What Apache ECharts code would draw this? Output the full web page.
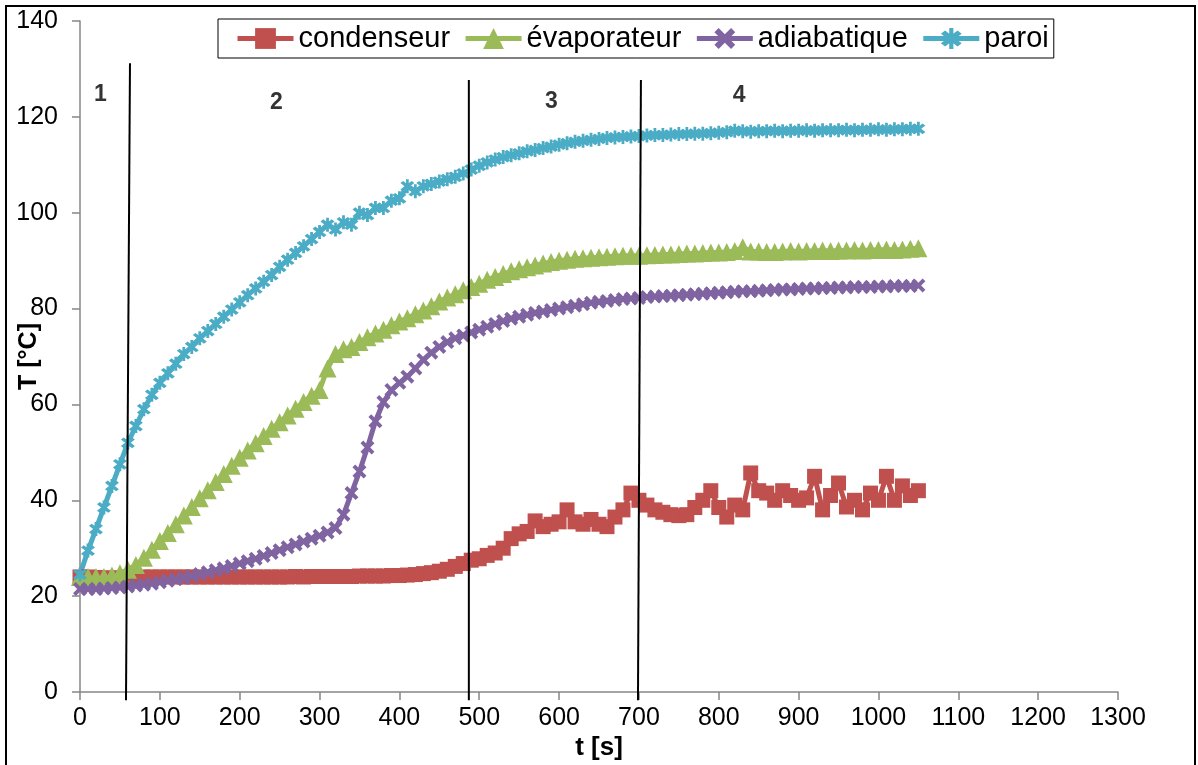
<!DOCTYPE html>
<html>
<head>
<meta charset="utf-8">
<title>T [°C] vs t [s]</title>
<script src="https://cdn.jsdelivr.net/npm/echarts@6/dist/echarts.min.js"></script>
<style>
  html, body { margin: 0; padding: 0; background: #fff; }
  #chart { width: 1198px; height: 765px; }
</style>
</head>
<body>
<div id="chart"></div>
<script>
// sample times (s)
var times = [0, 10, 20, 30, 40, 50, 60, 70, 80, 90,
    100, 110, 120, 130, 140, 150, 160, 170, 180, 190,
    200, 210, 220, 230, 240, 250, 260, 270, 280, 290,
    300, 310, 320, 330, 340, 350, 360, 370, 380, 390,
    400, 410, 420, 430, 440, 450, 460, 470, 480, 490,
    500, 510, 520, 530, 540, 550, 560, 570, 580, 590,
    600, 610, 620, 630, 640, 650, 660, 670, 680, 690,
    700, 710, 720, 730, 740, 750, 760, 770, 780, 790,
    800, 810, 820, 830, 840, 850, 860, 870, 880, 890,
    900, 910, 920, 930, 940, 950, 960, 970, 980, 990,
    1000, 1010, 1020, 1030, 1040, 1050];

var condenseur = [24, 24, 23.9, 23.8, 23.8, 23.8, 23.9, 23.9, 24, 24,
    24, 24, 24, 24, 24, 24, 24, 24, 24, 24,
    24, 24, 24, 24, 24, 24, 24, 24.1, 24, 24.1,
    24.1, 24.1, 24.1, 24.1, 24.1, 24.2, 24.2, 24.2, 24.2, 24.3,
    24.3, 24.4, 24.5, 24.7, 24.9, 25.2, 25.6, 26.2, 26.8, 27.5,
    27.8, 28.5, 29, 30, 32, 33, 33.5, 35.7, 34.5, 35,
    35.5, 38, 35.5, 35, 36, 35, 34.5, 36.5, 38, 41.5,
    40, 39, 38, 37.5, 37, 36.8, 37, 38.5, 40, 42,
    38.5, 36.5, 39, 38, 45.7, 42, 41.5, 40, 42, 41,
    40, 40.5, 45, 38, 41, 43.6, 38.6, 40, 38, 41.5,
    40, 45, 40, 43, 41, 42];

var evaporateur = [24, 24, 24, 24, 24.3, 24.8, 25.5, 26.5, 28, 29.7,
    31.5, 33.2, 35, 36.8, 38.6, 40.4, 42.1, 43.8, 45.5, 47.2,
    48.9, 50.4, 51.9, 53.4, 54.9, 56.3, 57.7, 59.1, 60.5, 61.8,
    63, 67.5, 70.5, 71.5, 72, 73, 74, 74.8, 75.6, 76.5,
    77.3, 78, 78.8, 79.6, 80.5, 81.5, 82.3, 83, 83.8, 84.5,
    85.2, 86, 86.6, 87.2, 87.8, 88.2, 88.6, 89, 89.4, 89.7,
    90, 90.2, 90.4, 90.5, 90.6, 90.7, 90.8, 90.9, 91, 91,
    91, 91.1, 91.2, 91.3, 91.3, 91.4, 91.5, 91.5, 91.6, 91.7,
    91.7, 91.8, 92, 92.8, 91.9, 91.9, 91.8, 91.8, 91.9, 92,
    91.9, 92, 92, 92.1, 92, 92.1, 92.1, 92.2, 92.1, 92.2,
    92.2, 92.3, 92.2, 92.3, 92.5, 92.6];

var adiabatique = [21.5, 21.5, 21.5, 21.6, 21.7, 21.8, 22, 22.2, 22.4, 22.6,
    22.9, 23.2, 23.5, 23.8, 24.2, 24.6, 25, 25.4, 25.8, 26.3,
    26.8, 27.3, 27.8, 28.4, 29, 29.6, 30.2, 30.8, 31.4, 32,
    32.6, 33.3, 34.2, 37, 41.5, 46, 51, 56.5, 60.5, 63,
    64.5, 65.8, 67.5, 69.3, 70.8, 72, 73, 73.8, 74.4, 75,
    75.6, 76.2, 76.8, 77.4, 77.9, 78.3, 78.7, 79.1, 79.4, 79.7,
    80, 80.3, 80.6, 80.9, 81.2, 81.4, 81.6, 81.8, 82, 82.1,
    82.2, 82.4, 82.5, 82.6, 82.7, 82.8, 82.9, 83, 83.1, 83.2,
    83.3, 83.4, 83.5, 83.6, 83.6, 83.7, 83.8, 83.9, 84, 84,
    84.1, 84.2, 84.2, 84.3, 84.3, 84.4, 84.4, 84.5, 84.5, 84.5,
    84.6, 84.6, 84.7, 84.7, 84.7, 84.8];

var paroi = [24.5, 29.5, 34, 38.5, 43, 47.5, 52, 55.5, 59, 62,
    64.5, 66.5, 68.5, 70.5, 72, 73.8, 75.3, 76.8, 78.3, 79.8,
    81.3, 82.8, 84.2, 85.6, 87, 88.7, 90.2, 91.6, 93, 94.5,
    96, 97.5, 96.5, 98, 97.5, 100, 99.5, 101, 101, 102.5,
    103, 105.5, 104.5, 105.5, 106, 106.5, 107, 107.5, 108.2, 109,
    109.8, 110.5, 111.1, 111.6, 112, 112.4, 112.8, 113.1, 113.5, 113.8,
    114.2, 114.5, 114.8, 115, 115.2, 115.4, 115.6, 115.7, 115.8, 115.9,
    116, 116.1, 116.2, 116.2, 116.3, 116.4, 116.4, 116.5, 116.5, 116.6,
    116.7, 116.8, 117.1, 117, 116.9, 117, 117, 117.1, 117, 117.1,
    117.1, 117.2, 117.1, 117.2, 117.2, 117.2, 117.3, 117.2, 117.3, 117.3,
    117.4, 117.3, 117.4, 117.4, 117.5, 117.5];

// phase boundaries (slightly slanted lines) and phase numbers
var phaseBottomT = [57.6, 487, 698.8];
var phaseTopT = [62.6, 487, 702.5];
var phaseTopY = [131.2, 127.7, 127.7];
var phaseBottomY = -1.7;
var phaseNames = ['1', '2', '3', '4'];
var phaseNameT = [26.3, 246.7, 591, 826];
var phaseNameY = [124.5, 122.8, 123, 124.4];

var xTicks = {min: 0, max: 1300, interval: 100};
var yTicks = {min: 0, max: 140, interval: 20};

function pairs(vals) {
    return vals.map(function (v, i) { return [times[i], v]; });
}

// filled cross and asterisk symbols (thick arms)
var crossPath = 'path://M0,2 L2,0 L5,3 L8,0 L10,2 L7,5 L10,8 L8,10 L5,7 L2,10 L0,8 L3,5 Z';
var starPath = 'path://M0,2 L2,0 L5,3 L8,0 L10,2 L7,5 L10,8 L8,10 L5,7 L2,10 L0,8 L3,5 Z ' +
    'M4,-1.5 L6,-1.5 L6,11.5 L4,11.5 Z';

var font = "'Liberation Sans', Arial, sans-serif";

function curve(name, vals, color, symbol, size) {
    return {
        name: name,
        type: 'line',
        data: pairs(vals),
        symbol: symbol,
        symbolSize: size,
        showAllSymbol: true,
        color: color,
        lineStyle: {color: color, width: 5},
        itemStyle: {color: color},
        emphasis: {disabled: true}
    };
}

var series = [
    curve('condenseur', condenseur, '#C0504D', 'rect', 15),
    curve('évaporateur', evaporateur, '#9BBB59', 'triangle', 18),
    curve('adiabatique', adiabatique, '#8064A2', crossPath, 14),
    curve('paroi', paroi, '#4BACC6', starPath, 14)
];

phaseTopT.forEach(function (tt, i) {
    series.push({
        type: 'line',
        data: [[phaseBottomT[i], phaseBottomY], [tt, phaseTopY[i]]],
        symbol: 'none',
        clip: false,
        lineStyle: {color: '#000', width: 2},
        silent: true,
        z: 5
    });
});

series.push({
    type: 'scatter',
    data: phaseNames.map(function (n, i) { return [phaseNameT[i], phaseNameY[i], n]; }),
    symbolSize: 1,
    itemStyle: {color: 'rgba(0,0,0,0)'},
    silent: true,
    label: {
        show: true,
        position: [0, 0],
        align: 'center',
        verticalAlign: 'middle',
        formatter: function (p) { return p.data[2]; },
        color: '#000',
        fontWeight: 'bold',
        fontSize: 23,
        fontFamily: font
    }
});

var chart = echarts.init(document.getElementById('chart'));

chart.setOption({
    animation: false,
    backgroundColor: '#fff',
    grid: {left: 80, right: 80, top: 21, bottom: 73, containLabel: false, outerBoundsMode: 'none'},
    legend: {
        data: ['condenseur', 'évaporateur', 'adiabatique', 'paroi'],
        left: 218,
        top: 19,
        padding: [5, 5, 5, 17],
        itemGap: 13,
        itemWidth: 56,
        itemHeight: 26,
        borderColor: '#000',
        borderWidth: 1,
        lineStyle: {width: 5},
        textStyle: {fontSize: 29, color: '#000', fontFamily: font}
    },
    xAxis: {
        type: 'value',
        min: xTicks.min,
        max: xTicks.max,
        interval: xTicks.interval,
        name: 't [s]',
        nameLocation: 'middle',
        nameGap: 43,
        nameMoveOverlap: false,
        nameTextStyle: {fontSize: 26, fontWeight: 'bold', color: '#000', fontFamily: font},
        splitLine: {show: false},
        axisLine: {lineStyle: {color: '#868686', width: 1.5}},
        axisTick: {length: 8, lineStyle: {color: '#868686', width: 1.5}},
        axisLabel: {
            fontSize: 25, color: '#000', margin: 14, fontFamily: font,
            formatter: function (v) { return String(v); }
        }
    },
    yAxis: {
        type: 'value',
        min: yTicks.min,
        max: yTicks.max,
        interval: yTicks.interval,
        name: 'T [°C]',
        nameLocation: 'middle',
        nameGap: 38,
        nameMoveOverlap: false,
        nameTextStyle: {fontSize: 25, fontWeight: 'bold', color: '#000', fontFamily: font},
        splitLine: {show: false},
        axisLine: {show: true, lineStyle: {color: '#868686', width: 1.5}},
        axisTick: {show: true, length: 8, lineStyle: {color: '#868686', width: 1.5}},
        axisLabel: {
            fontSize: 25, color: '#000', margin: 22, fontFamily: font,
            formatter: function (v) { return String(v); }
        }
    },
    graphic: [{
        type: 'rect',
        shape: {x: 6, y: 6, width: 1189, height: 775},
        style: {fill: null, stroke: '#000', lineWidth: 2},
        silent: true
    }],
    series: series
});
</script>
</body>
</html>
